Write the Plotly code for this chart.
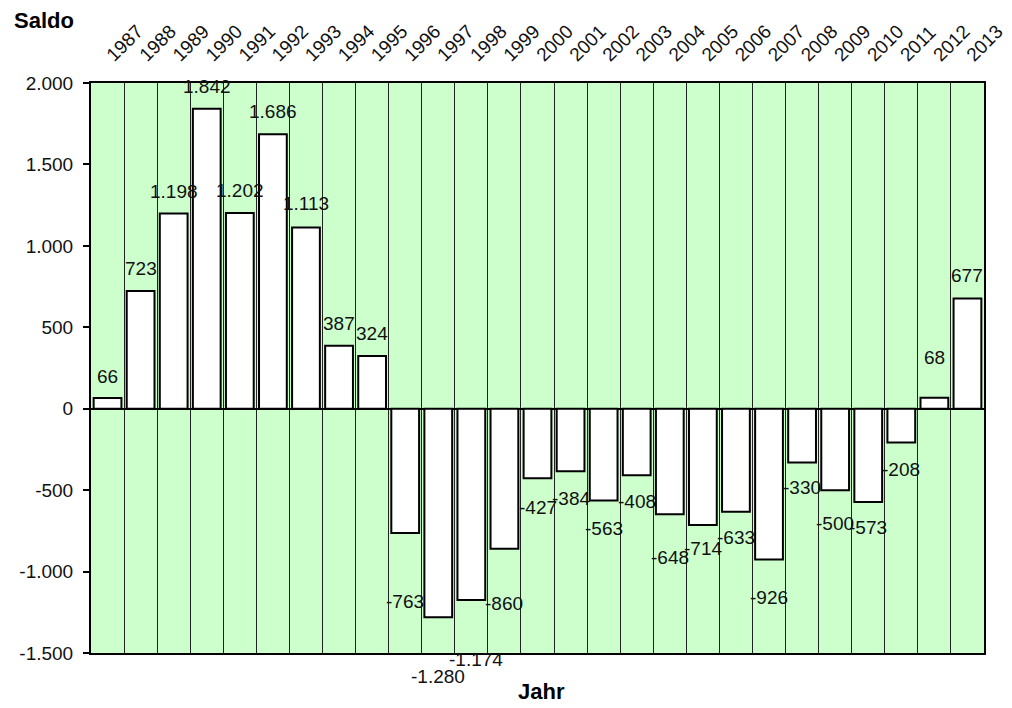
import plotly.graph_objects as go

years = [str(y) for y in range(1987, 2014)]
saldo = [66, 723, 1198, 1842, 1202, 1686, 1113, 387, 324,
         -763, -1280, -1174, -860, -427, -384, -563, -408, -648,
         -714, -633, -926, -330, -500, -573, -208, 68, 677]
y_tickvals = [-1500, -1000, -500, 0, 500, 1000, 1500, 2000]
y_ticktext = ["-1.500", "-1.000", "-500", "0", "500", "1.000", "1.500", "2.000"]

# label vertical offsets in pixels (style only)
label_shift = [21, 22, 22, 22, 22, 23, 24, 22, 22,
               -69, -59, -60, -55, -29, -27, -28, -26, -43,
               -24, -26, -38, -25, -33, -25, -27, 40, 23]


def fmt(v):
    s = f"{abs(v):,}".replace(",", ".")
    return ("-" if v < 0 else "") + s


FONT = "Liberation Sans, Arial, sans-serif"

fig = go.Figure()
fig.add_trace(go.Bar(
    x=years, y=saldo,
    marker=dict(color="white", line=dict(color="black", width=2)),
    hoverinfo="x+y",
))

annotations = []
for i, (v, sh) in enumerate(zip(saldo, label_shift)):
    annotations.append(dict(
        x=i, y=v, xref="x", yref="y", text=fmt(v), showarrow=False,
        yshift=sh, xshift=(5 if v == -1174 else 0),
        xanchor="center", yanchor="middle",
        font=dict(family=FONT, size=19, color="#111111"),
    ))
annotations.append(dict(
    x=-0.0885, y=1.1105, xref="paper", yref="paper", text="<b>Saldo</b>",
    showarrow=False, xanchor="left", yanchor="middle",
    font=dict(family=FONT, size=22, color="black"),
))
annotations.append(dict(
    x=0.504, y=-0.0684, xref="paper", yref="paper", text="<b>Jahr</b>",
    showarrow=False, xanchor="center", yanchor="middle",
    font=dict(family=FONT, size=22, color="black"),
))

fig.update_layout(
    width=1012, height=708,
    margin=dict(l=83, r=36, t=75, b=63),
    paper_bgcolor="white",
    plot_bgcolor="#CCFFCC",
    bargap=0.16,
    showlegend=False,
    annotations=annotations,
    xaxis=dict(
        type="category", side="top", tickson="boundaries",
        showgrid=True, gridcolor="#222222", gridwidth=1,
        showline=True, linecolor="black", linewidth=2, mirror=True,
        ticks="", tickangle=-45, ticklabelstandoff=8,
        tickfont=dict(family=FONT, size=19, color="#111111"),
        range=[-0.5, len(years) - 0.5],
    ),
    yaxis=dict(
        range=[-1500, 2000], tickvals=y_tickvals, ticktext=y_ticktext,
        showgrid=False, zeroline=True, zerolinecolor="black", zerolinewidth=2,
        showline=True, linecolor="black", linewidth=2, mirror=True,
        ticks="outside", ticklen=6, tickwidth=1.5, tickcolor="black",
        ticklabelstandoff=6,
        tickfont=dict(family=FONT, size=19, color="#111111"),
    ),
)

fig.write_html("out.html")
